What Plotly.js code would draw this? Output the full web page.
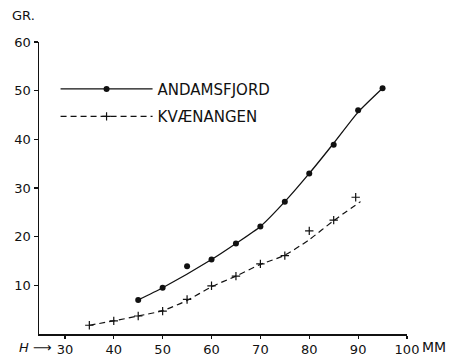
<!DOCTYPE html>
<html>
<head>
<meta charset="utf-8">
<script src="https://cdn.plot.ly/plotly-3.0.1.min.js"></script>
<style>html,body{margin:0;padding:0;background:#fff;}#chart{width:456px;height:356px;}</style>
</head>
<body>
<div id="chart"></div>
<script>
// Andamsfjord (GR. vs MM)
const andX = [45, 50, 55, 60, 65, 70, 75, 80, 85, 90, 95];
const andY = [7.0, 9.5, 13.9, 15.3, 18.6, 22.1, 27.2, 33.0, 38.9, 46.0, 50.5];
// fitted curve drawn through Andamsfjord points
const andLineX = [45, 50, 60, 65, 70, 75, 80, 85, 90, 95];
const andLineY = [7.0, 9.5, 15.3, 18.6, 22.1, 27.2, 33.0, 39.2, 45.6, 50.5];
// Kvænangen
const kvaX = [35, 40, 45, 50, 55, 60, 65, 70, 75, 80, 85, 89.5];
const kvaY = [1.8, 2.7, 3.7, 4.7, 7.1, 9.9, 11.9, 14.4, 16.1, 21.2, 23.4, 28.1];
// fitted curve drawn through Kvænangen points
const kvaLineX = [35, 40, 45, 50, 55, 60, 65, 70, 75, 80, 85, 90.5];
const kvaLineY = [1.8, 2.7, 3.7, 4.8, 6.9, 9.7, 11.9, 14.3, 16.2, 19.4, 23.3, 27.2];
const xTicks = [30, 40, 50, 60, 70, 80, 90, 100];
const yTicks = [10, 20, 30, 40, 50, 60];
const seriesNames = ['ANDAMSFJORD', 'KVÆNANGEN'];

const ink = '#111';
const FONT = 'DejaVu Sans, sans-serif';

const traces = [
  {x: andLineX, y: andLineY, type: 'scatter', mode: 'lines', line: {color: ink, width: 1.3, shape: 'spline', smoothing: 0.6},
   showlegend: false, hoverinfo: 'skip', legendgroup: 'a'},
  {x: andX, y: andY, type: 'scatter', mode: 'markers', marker: {color: ink, size: 6, symbol: 'circle'},
   name: seriesNames[0], legendgroup: 'a', showlegend: false},
  {x: kvaLineX, y: kvaLineY, type: 'scatter', mode: 'lines', line: {color: ink, width: 1.2, dash: '6px,4px', shape: 'spline', smoothing: 0.7},
   showlegend: false, hoverinfo: 'skip', legendgroup: 'k'},
  {x: kvaX, y: kvaY, type: 'scatter', mode: 'markers', marker: {color: ink, size: 6, symbol: 'cross-thin-open', line: {color: ink, width: 1.2}},
   name: seriesNames[1], legendgroup: 'k', showlegend: false},
  // legend entries
  {x: [null], y: [null], type: 'scatter', mode: 'lines+markers', name: seriesNames[0], legendgroup: 'a',
   line: {color: ink, width: 1.3}, marker: {color: ink, size: 6}},
  {x: [null], y: [null], type: 'scatter', mode: 'lines+markers', name: seriesNames[1], legendgroup: 'k',
   line: {color: ink, width: 1.2, dash: '6px,4px'}, marker: {color: ink, size: 6, symbol: 'cross-thin-open', line: {color: ink, width: 1.2}}}
];

const layout = {
  width: 456, height: 356,
  margin: {l: 39, r: 49, t: 42, b: 22},
  paper_bgcolor: '#fff', plot_bgcolor: '#fff',
  font: {family: FONT, color: ink, size: 13},
  showlegend: true,
  legend: {x: 0.045, y: 0.895, xanchor: 'left', yanchor: 'top', bgcolor: 'rgba(0,0,0,0)',
           font: {family: FONT, size: 15, color: ink}, itemwidth: 92, tracegroupgap: 5, traceorder: 'grouped'},
  xaxis: {range: [24.7, 100], tickvals: xTicks, ticktext: xTicks.map(String), showgrid: false, zeroline: false,
          showline: true, linecolor: ink, linewidth: 1.5, ticks: 'outside', ticklen: 3, tickcolor: ink, tickwidth: 1.2,
          tickfont: {family: FONT, size: 13, color: ink}},
  yaxis: {range: [0, 60], tickvals: yTicks, ticktext: yTicks.map(String), showgrid: false, zeroline: false,
          showline: true, linecolor: ink, linewidth: 1.5, ticks: 'outside', ticklen: 4, tickcolor: ink, tickwidth: 1.2,
          tickfont: {family: FONT, size: 13, color: ink}},
  annotations: [
    {text: 'GR.', xref: 'paper', yref: 'paper', x: -0.08, y: 1.09, xanchor: 'left', yanchor: 'middle', showarrow: false,
     font: {family: FONT, size: 13, color: ink}},
    {text: '<i>H</i> ⟶', xref: 'paper', yref: 'paper', x: -0.06, y: -0.045, xanchor: 'left', yanchor: 'middle', showarrow: false,
     font: {family: FONT, size: 13, color: ink}},
    {text: 'MM', xref: 'paper', yref: 'paper', x: 1.035, y: -0.045, xanchor: 'left', yanchor: 'middle', showarrow: false,
     font: {family: FONT, size: 14, color: ink}}
  ]
};

Plotly.newPlot('chart', traces, layout, {displayModeBar: false, staticPlot: true});
</script>
</body>
</html>
